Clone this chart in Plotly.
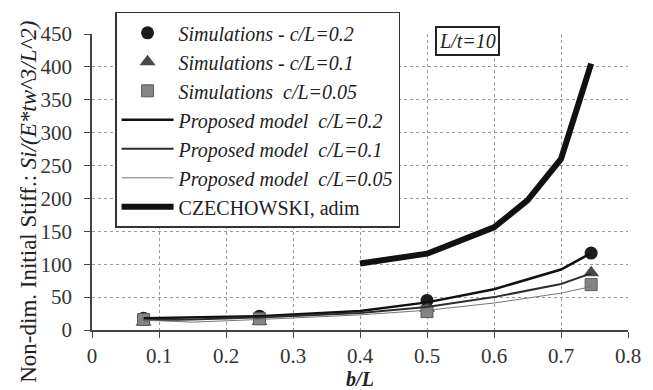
import plotly.graph_objects as go

# ---- data ----
b_sim = [0.077, 0.25, 0.5, 0.745]
sim_c02 = [18, 21, 45, 117]
sim_c01 = [12, 13, 33, 87]
sim_c005 = [16, 17, 28, 69]

b_model = [0.077, 0.15, 0.25, 0.4, 0.5, 0.6, 0.7, 0.745]
model_c02 = [18, 19, 21, 29, 42, 62, 92, 117]
model_c01 = [15, 16, 19, 26, 35, 50, 70, 86]
model_c005 = [15, 12, 16, 23, 30, 41, 56, 66]

b_czech = [0.4, 0.5, 0.6, 0.65, 0.7, 0.745]
czech = [101, 116, 156, 197, 260, 405]

x_ticks = [0, 0.1, 0.2, 0.3, 0.4, 0.5, 0.6, 0.7, 0.8]
y_ticks = [0, 50, 100, 150, 200, 250, 300, 350, 400, 450]

FONT = "Liberation Serif"

fig = go.Figure()

fig.add_trace(go.Scatter(x=b_sim, y=sim_c02, mode="markers", name="<i>Simulations - c/L=0.2</i>",
                         cliponaxis=False,
                         marker=dict(symbol="circle", size=13, color="#1c1c1c")))
fig.add_trace(go.Scatter(x=b_sim, y=sim_c01, mode="markers", name="<i>Simulations - c/L=0.1</i>",
                         cliponaxis=False,
                         marker=dict(symbol="triangle-up", size=14, color="#4a4a4a")))
fig.add_trace(go.Scatter(x=b_sim, y=sim_c005, mode="markers", name="<i>Simulations  c/L=0.05</i>",
                         cliponaxis=False,
                         marker=dict(symbol="square", size=12, color="#858585",
                                     line=dict(color="#5a5a5a", width=1))))
fig.add_trace(go.Scatter(x=b_model, y=model_c02, mode="lines", name="<i>Proposed model  c/L=0.2</i>",
                         line=dict(color="#111111", width=2.5)))
fig.add_trace(go.Scatter(x=b_model, y=model_c01, mode="lines", name="<i>Proposed model  c/L=0.1</i>",
                         line=dict(color="#2e2e2e", width=2)))
fig.add_trace(go.Scatter(x=b_model, y=model_c005, mode="lines", name="<i>Proposed model  c/L=0.05</i>",
                         line=dict(color="#777777", width=1)))
fig.add_trace(go.Scatter(x=b_czech, y=czech, mode="lines", name="CZECHOWSKI, adim",
                         line=dict(color="#111111", width=6)))

fig.add_annotation(x=0.56, y=440, xref="x", yref="y", text="<i>L/t=10</i>", showarrow=False,
                   font=dict(family=FONT, size=20, color="#222"),
                   bordercolor="#222", borderwidth=2, borderpad=2, bgcolor="white")

# y-axis title placed as annotation to match reference position
fig.add_annotation(x=-0.119, y=0.434, xref="paper", yref="paper",
                   xanchor="center", yanchor="middle",
                   text="Non-dim. Initial Stiff.: <i>Si/(E*tw^3/L^2)</i>",
                   textangle=-90, showarrow=False,
                   font=dict(family=FONT, size=23, color="#222"))

fig.update_layout(
    width=653, height=390,
    margin=dict(l=92, r=25, t=28, b=60),
    paper_bgcolor="white", plot_bgcolor="white",
    font=dict(family=FONT, size=19, color="#222"),
    showlegend=True,
    legend=dict(x=0.043, y=1.075, xanchor="left", yanchor="top",
                bgcolor="white", bordercolor="#333", borderwidth=1.5,
                font=dict(family=FONT, size=20, color="#222"),
                traceorder="normal", itemwidth=52,
                maxheight=400),
    xaxis=dict(range=[0, 0.8], tickvals=x_ticks, ticktext=[f"{v:g}" for v in x_ticks],
               showgrid=True, gridcolor="#999", griddash="dot", gridwidth=1,
               showline=True, linecolor="#444", linewidth=1.5,
               ticks="outside", ticklen=6, tickcolor="#444",
               tickfont=dict(family=FONT, size=21, color="#333"),
               zeroline=False, automargin=False,
               title=dict(text="<b><i>b/L</i></b>", font=dict(family=FONT, size=20, color="#222"), standoff=4)),
    yaxis=dict(range=[0, 450], tickvals=y_ticks,
               showgrid=True, gridcolor="#999", griddash="dot", gridwidth=1,
               showline=True, linecolor="#444", linewidth=1.5,
               ticks="outside", ticklen=6, tickcolor="#444", ticklabelstandoff=8,
               tickfont=dict(family=FONT, size=21, color="#333"),
               zeroline=False, automargin=False),
)

fig.write_html("out.html", config={"displayModeBar": False},
               post_script="document.body.style.margin='0';document.body.style.padding='0';")
